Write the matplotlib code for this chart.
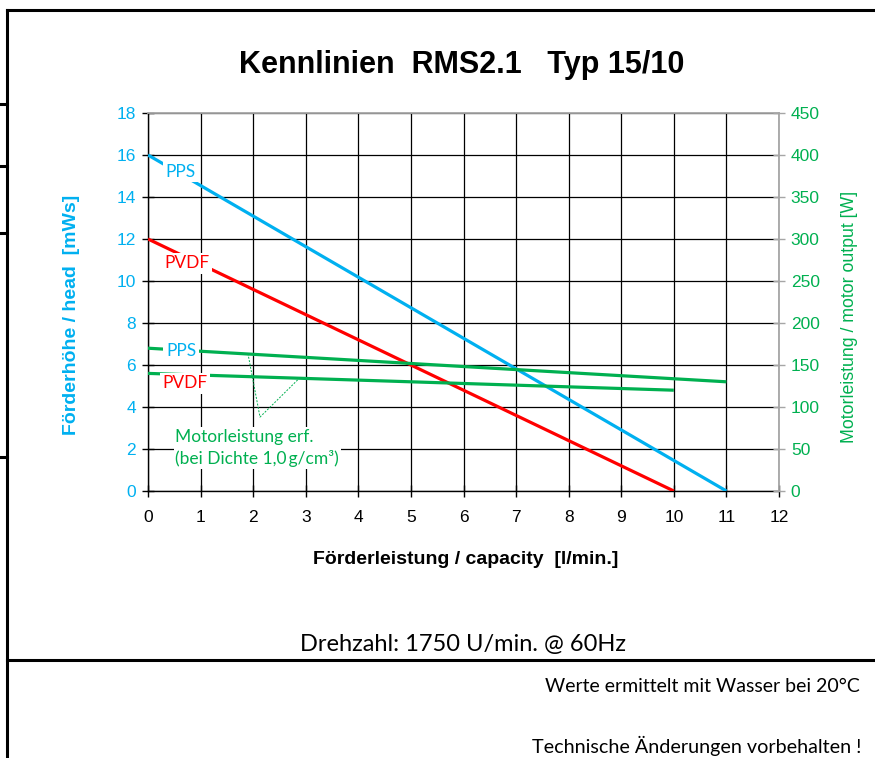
"""
Kennlinien RMS2.1 Typ 15/10 - Förderhöhe und Motorleistung über Förderleistung.
"""

import numpy as np
import matplotlib
matplotlib.use('Agg')
import matplotlib.pyplot as plt
from matplotlib.lines import Line2D

# ── Data ──────────────────────────────────────────────────────────────
flow_pps = [0, 11]            # l/min
head_pps = [16, 0]            # mWs
flow_pvdf = [0, 10]
head_pvdf = [12, 0]

motor_pps = [170, 130]        # W, over flow_pps
motor_pvdf = [140, 120]       # W, over flow_pvdf

x_ticks = list(range(0, 13))
head_ticks = list(range(0, 19, 2))
power_ticks = list(range(0, 451, 50))

# label positions (x, y in head units)
lbl_head_pps = (0.62, 15.2)
lbl_head_pvdf = (0.74, 10.85)
lbl_mot_pps = (0.63, 6.68)
lbl_mot_pvdf = (0.70, 5.12)

# pointer of the "Motorleistung erf." note (head units)
note_x = [1.90, 2.13, 2.85]
note_y = [6.55, 3.52, 5.30]

BLUE = '#00B0F0'
RED = '#FF0000'
GREEN = '#00B050'
GREY = '#A6A6A6'
SANS = 'Liberation Sans'
CAL = 'Lato'

W, H = 875, 758
fig = plt.figure(figsize=(W / 100, H / 100), dpi=100)


def px(x0, y0, x1, y1):
    return [x0 / W, 1 - y1 / H, (x1 - x0) / W, (y1 - y0) / H]


ax = fig.add_axes(px(148, 113, 779, 491))
ax2 = ax.twinx()

# ── Head curves ───────────────────────────────────────────────────────
ax.plot(flow_pps, head_pps, color=BLUE, lw=2.3, solid_capstyle='butt', zorder=3)
ax.plot(flow_pvdf, head_pvdf, color=RED, lw=2.3, solid_capstyle='butt', zorder=3)

# motor power curves drawn on head axis after scaling (right axis 0..450 ↔ 0..18)
scale = 18 / 450
ax.plot(flow_pps, np.array(motor_pps) * scale, color=GREEN, lw=2.3,
        solid_capstyle='butt', zorder=3)
ax.plot(flow_pvdf, np.array(motor_pvdf) * scale, color=GREEN, lw=2.3,
        solid_capstyle='butt', zorder=3)

box = dict(boxstyle='square,pad=0.15', facecolor='white', edgecolor='none')
for (x, y), txt, col in [(lbl_head_pps, 'PPS', BLUE), (lbl_head_pvdf, 'PVDF', RED),
                         (lbl_mot_pps, 'PPS', BLUE), (lbl_mot_pvdf, 'PVDF', RED)]:
    ax.text(x, y, txt, color=col, fontsize=12.5, family=CAL, ha='center',
            va='center', bbox=box, zorder=4)

ax.plot(note_x, note_y, color=GREEN, lw=0.7, ls=(0, (2, 1.5)), zorder=2)
ax.text(0.52, 2.05, 'Motorleistung erf.\n(bei Dichte 1,0\u2009g/cm³)', color=GREEN,
        fontsize=12.5, family=[CAL, 'DejaVu Sans'], ha='left', va='center',
        linespacing=1.4, bbox=dict(boxstyle='square,pad=0.1', facecolor='white',
                                   edgecolor='none'), zorder=4)

# ── Axes styling ──────────────────────────────────────────────────────
ax.set_xlim(0, 12)
ax.set_ylim(0, 18)
ax2.set_ylim(0, 450)
ax.set_xticks(x_ticks)
ax.set_yticks(head_ticks)
ax2.set_yticks(power_ticks)

ax.grid(True, color='black', lw=0.9, zorder=1)
ax.set_axisbelow(True)
for s in ['left', 'bottom']:
    ax.spines[s].set_color('black')
    ax.spines[s].set_linewidth(1.0)
for s in ['top', 'right']:
    ax.spines[s].set_visible(False)
    ax2.spines[s].set_color(GREY)
    ax2.spines[s].set_linewidth(1.3)
ax2.spines['left'].set_visible(False)
ax2.spines['bottom'].set_visible(False)

ax.tick_params(axis='both', direction='inout', length=9, width=1.0, color='black',
               labelsize=12.5)
ax.tick_params(axis='x', pad=9)
ax.tick_params(axis='y', pad=4, labelcolor=BLUE)
ax2.tick_params(axis='y', direction='inout', length=9, width=1.0, color=GREY,
                labelsize=12.5, labelcolor=GREEN, pad=4)
for lab in ax.get_xticklabels() + ax.get_yticklabels() + ax2.get_yticklabels():
    lab.set_family(SANS)

# ── Texts ─────────────────────────────────────────────────────────────
fig.text(462 / W, 1 - 65 / H, 'Kennlinien  RMS2.1   Typ 15/10', family=SANS,
         fontsize=22, fontweight='bold', ha='center', va='center')
fig.text(72 / W, 1 - 315 / H, 'Förderhöhe / head  [mWs]', family=SANS, fontsize=14,
         fontweight='bold', color=BLUE, rotation=90, ha='center', va='center')
fig.text(850 / W, 1 - 317 / H, 'Motorleistung / motor output [W]', family=SANS,
         fontsize=12.8, color=GREEN, rotation=90, ha='center', va='center')
fig.text(466 / W, 1 - 560 / H, 'Förderleistung / capacity  [l/min.]', family=SANS,
         fontsize=14, fontweight='bold', ha='center', va='center')
fig.text(463 / W, 1 - 645 / H, 'Drehzahl: 1750 U/min. @ 60Hz', family=CAL,
         fontsize=17, ha='center', va='center')
fig.text(860 / W, 1 - 686 / H, 'Werte ermittelt mit Wasser bei 20°C', family=CAL,
         fontsize=14, ha='right', va='center')
fig.text(862 / W, 1 - 746 / H, 'Technische Änderungen vorbehalten !', family=CAL,
         fontsize=14.2, ha='right', va='center')

# ── Page frame lines ──────────────────────────────────────────────────
def hline(y, x0, x1, lw=2.2):
    fig.add_artist(Line2D([x0 / W, x1 / W], [1 - y / H, 1 - y / H], color='black',
                          lw=lw, transform=fig.transFigure))

fig.add_artist(Line2D([7 / W, 7 / W], [1 - 10 / H, 0], color='black', lw=2.2,
                      transform=fig.transFigure))
hline(10, 7, W)
hline(660, 7, W)
for y in [104, 166, 233, 457]:
    hline(y, 0, 7)

fig.savefig('out.png', dpi=100)
